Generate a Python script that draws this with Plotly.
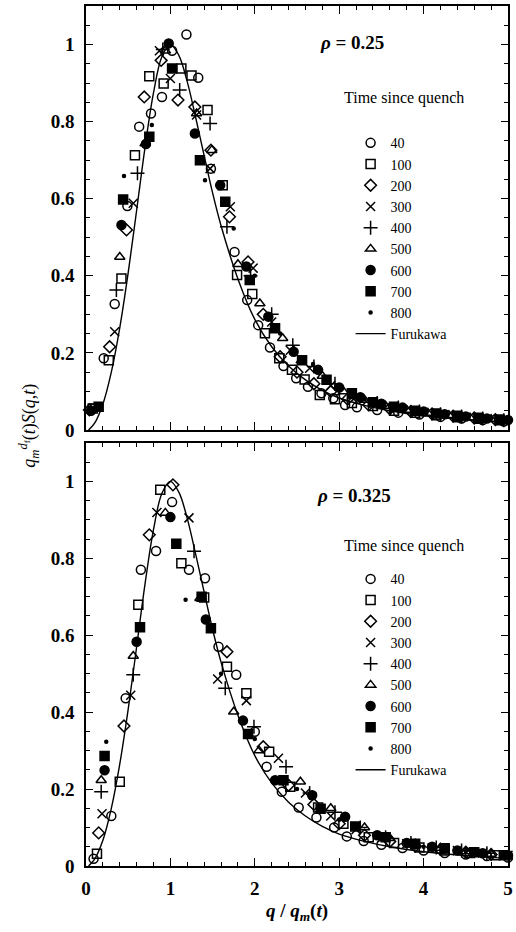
import plotly.graph_objects as go

# ---------------- data ----------------
series_names = ["40", "100", "200", "300", "400", "500", "600", "700", "800"]
x_ticks = [0, 1, 2, 3, 4, 5]
y_ticks = [0, 0.2, 0.4, 0.6, 0.8, 1]
y_tick_labels = ["0", "0.2", "0.4", "0.6", "0.8", "1"]

# rho = 0.25 (top panel)
top_x = {
    "40": [0.07, 0.21, 0.34, 0.49, 0.63, 0.77, 0.90, 1.02, 1.19, 1.33, 1.48, 1.76, 1.91, 2.04, 2.18, 2.34, 2.49, 2.63, 2.79, 2.93, 3.07, 3.21, 3.45, 3.70, 3.95, 4.20, 4.45, 4.70, 4.95],
    "100": [0.08, 0.27, 0.42, 0.58, 0.75, 0.92, 1.13, 1.25, 1.44, 1.62, 1.79, 1.97, 2.12, 2.29, 2.44, 2.59, 2.77, 2.95, 3.15, 3.40, 3.65, 3.90, 4.15, 4.40, 4.65, 4.90],
    "200": [0.04, 0.28, 0.48, 0.69, 0.89, 1.09, 1.29, 1.48, 1.70, 1.92, 2.10, 2.30, 2.50, 2.70, 2.90, 3.10, 3.35, 3.60, 3.85, 4.10, 4.35, 4.60, 4.85],
    "300": [0.34, 0.56, 0.87, 1.00, 1.31, 1.47, 1.71, 1.98, 2.20, 2.42, 2.65, 2.90, 3.15, 3.40, 3.65, 3.90, 4.15, 4.40, 4.65, 4.90],
    "400": [0.36, 0.61, 0.91, 1.11, 1.47, 1.67, 1.95, 2.20, 2.45, 2.70, 2.95, 3.20, 3.45, 3.70, 3.95, 4.20, 4.45, 4.70, 4.95],
    "500": [0.40, 0.70, 0.94, 1.31, 1.49, 1.80, 2.06, 2.33, 2.55, 2.80, 3.05, 3.30, 3.55, 3.80, 4.05, 4.30, 4.55, 4.80],
    "600": [0.06, 0.42, 0.71, 0.98, 1.29, 1.59, 1.90, 2.16, 2.46, 2.75, 3.00, 3.25, 3.50, 3.75, 4.00, 4.25, 4.50, 4.75, 5.00],
    "700": [0.15, 0.44, 0.75, 1.02, 1.35, 1.65, 1.94, 2.24, 2.56, 2.85, 3.15, 3.40, 3.65, 3.90, 4.15, 4.40, 4.65, 4.90],
    "800": [0.45, 0.78, 1.41, 1.75, 2.00, 2.30, 2.69, 3.00, 3.30, 3.60, 3.90, 4.20, 4.50, 4.80],
}
top_y = {
    "40": [0.056, 0.186, 0.327, 0.581, 0.787, 0.821, 0.864, 0.984, 1.026, 0.914, 0.678, 0.462, 0.337, 0.272, 0.214, 0.166, 0.134, 0.112, 0.095, 0.082, 0.065, 0.059, 0.052, 0.045, 0.040, 0.034, 0.030, 0.026, 0.022],
    "100": [0.056, 0.181, 0.393, 0.713, 0.918, 0.899, 0.938, 0.920, 0.830, 0.635, 0.402, 0.353, 0.251, 0.186, 0.156, 0.131, 0.091, 0.080, 0.070, 0.062, 0.050, 0.045, 0.038, 0.033, 0.029, 0.025],
    "200": [0.052, 0.216, 0.519, 0.864, 0.959, 0.856, 0.838, 0.726, 0.553, 0.436, 0.300, 0.190, 0.150, 0.120, 0.100, 0.080, 0.065, 0.055, 0.048, 0.042, 0.036, 0.031, 0.027],
    "300": [0.255, 0.588, 0.984, 0.912, 0.817, 0.678, 0.579, 0.420, 0.280, 0.207, 0.160, 0.115, 0.085, 0.068, 0.056, 0.048, 0.041, 0.035, 0.030, 0.026],
    "400": [0.363, 0.666, 0.987, 0.882, 0.795, 0.527, 0.400, 0.300, 0.220, 0.165, 0.120, 0.090, 0.070, 0.058, 0.048, 0.041, 0.035, 0.030, 0.025],
    "500": [0.449, 0.743, 0.984, 0.821, 0.726, 0.430, 0.328, 0.238, 0.180, 0.140, 0.100, 0.078, 0.062, 0.052, 0.044, 0.038, 0.032, 0.028],
    "600": [0.050, 0.532, 0.742, 1.003, 0.769, 0.635, 0.424, 0.294, 0.203, 0.156, 0.110, 0.085, 0.068, 0.058, 0.048, 0.041, 0.035, 0.030, 0.026],
    "700": [0.060, 0.598, 0.761, 0.938, 0.700, 0.592, 0.389, 0.264, 0.181, 0.130, 0.095, 0.072, 0.060, 0.050, 0.043, 0.037, 0.032, 0.027],
    "800": [0.659, 0.791, 0.648, 0.523, 0.400, 0.250, 0.171, 0.110, 0.080, 0.062, 0.050, 0.042, 0.035, 0.030],
}

# rho = 0.325 (bottom panel)
bot_x = {
    "40": [0.09, 0.30, 0.47, 0.65, 0.83, 1.02, 1.22, 1.41, 1.57, 1.78, 2.00, 2.14, 2.32, 2.52, 2.73, 2.94, 3.09, 3.29, 3.50, 3.75, 4.00, 4.25, 4.50, 4.75, 5.00],
    "100": [0.13, 0.40, 0.62, 0.88, 1.13, 1.40, 1.67, 1.90, 2.17, 2.42, 2.75, 3.05, 3.35, 3.65, 3.95, 4.25, 4.55, 4.85],
    "200": [0.15, 0.45, 0.75, 1.03, 1.67, 2.10, 2.40, 2.70, 3.00, 3.30, 3.60, 3.90, 4.20, 4.50, 4.80],
    "300": [0.19, 0.53, 0.84, 1.22, 1.56, 1.90, 2.28, 2.60, 2.90, 3.20, 3.50, 3.80, 4.10, 4.40, 4.70, 5.00],
    "400": [0.18, 0.56, 1.28, 1.65, 1.99, 2.37, 2.65, 2.95, 3.25, 3.55, 3.85, 4.15, 4.45, 4.75],
    "500": [0.18, 0.56, 0.94, 1.35, 1.75, 2.05, 2.54, 2.90, 3.30, 3.60, 3.90, 4.20, 4.50, 4.80],
    "600": [0.22, 0.60, 1.00, 1.42, 1.86, 2.24, 2.68, 3.07, 3.45, 3.80, 4.10, 4.40, 4.70, 5.00],
    "700": [0.22, 0.64, 1.07, 1.37, 1.48, 1.92, 2.34, 2.78, 3.19, 3.55, 3.90, 4.25, 4.60, 4.95],
    "800": [0.24, 1.18, 1.60, 2.00, 2.50, 3.00, 3.50, 4.00, 4.50, 5.00],
}
bot_y = {
    "40": [0.019, 0.130, 0.436, 0.770, 0.819, 0.946, 0.770, 0.748, 0.570, 0.497, 0.349, 0.258, 0.193, 0.152, 0.126, 0.100, 0.077, 0.065, 0.055, 0.047, 0.040, 0.034, 0.030, 0.026, 0.022],
    "100": [0.032, 0.219, 0.679, 0.978, 0.787, 0.698, 0.518, 0.449, 0.297, 0.206, 0.152, 0.110, 0.075, 0.060, 0.048, 0.040, 0.034, 0.028],
    "200": [0.086, 0.364, 0.861, 0.991, 0.557, 0.310, 0.210, 0.160, 0.110, 0.080, 0.064, 0.052, 0.043, 0.036, 0.030],
    "300": [0.136, 0.444, 0.919, 0.905, 0.486, 0.430, 0.280, 0.190, 0.130, 0.095, 0.072, 0.058, 0.047, 0.040, 0.034, 0.028],
    "400": [0.193, 0.497, 0.818, 0.462, 0.362, 0.258, 0.190, 0.140, 0.100, 0.075, 0.060, 0.048, 0.040, 0.033],
    "500": [0.223, 0.546, 0.918, 0.696, 0.401, 0.300, 0.219, 0.150, 0.100, 0.072, 0.058, 0.047, 0.038, 0.031],
    "600": [0.249, 0.583, 0.907, 0.641, 0.378, 0.223, 0.184, 0.128, 0.080, 0.060, 0.050, 0.040, 0.033, 0.028],
    "700": [0.286, 0.621, 0.838, 0.700, 0.618, 0.343, 0.223, 0.149, 0.103, 0.075, 0.058, 0.046, 0.036, 0.028],
    "800": [0.323, 0.692, 0.500, 0.330, 0.200, 0.120, 0.075, 0.050, 0.038, 0.028],
}

# Furukawa scaling curve
furukawa_x = [0.03, 0.10, 0.20, 0.30, 0.40, 0.50, 0.60, 0.70, 0.80, 0.90, 1.00, 1.10, 1.20, 1.30, 1.40, 1.50, 1.60, 1.80, 2.00, 2.20, 2.40, 2.60, 2.80, 3.00, 3.30, 3.60, 4.00, 4.50, 5.00]
furukawa_y = [0.0, 0.017, 0.067, 0.150, 0.265, 0.408, 0.570, 0.734, 0.875, 0.969, 1.000, 0.972, 0.903, 0.810, 0.712, 0.615, 0.530, 0.392, 0.287, 0.216, 0.166, 0.130, 0.103, 0.083, 0.064, 0.050, 0.037, 0.027, 0.020]

panel_labels = ["<b><i>ρ</i> = 0.25</b>", "<b><i>ρ</i> = 0.325</b>"]

# ---------------- styles ----------------
SERIF = "Liberation Serif, Times New Roman, serif"
marker_style = {
    "40": dict(symbol="circle-open", size=9),
    "100": dict(symbol="square-open", size=9),
    "200": dict(symbol="diamond-open", size=9),
    "300": dict(symbol="x-thin-open", size=9),
    "400": dict(symbol="cross-thin-open", size=10),
    "500": dict(symbol="triangle-up-open", size=9),
    "600": dict(symbol="circle", size=9),
    "700": dict(symbol="square", size=9),
    "800": dict(symbol="circle", size=3),
}

fig = go.Figure()

panels = [
    (top_x, top_y, "x", "y", "legend"),
    (bot_x, bot_y, "x2", "y2", "legend2"),
]
for px_, py_, xa, ya, lg in panels:
    for name in series_names:
        st = marker_style[name]
        fig.add_trace(go.Scatter(
            x=px_[name], y=py_[name], mode="markers", name=name,
            xaxis=xa, yaxis=ya, legend=lg, cliponaxis=False,
            marker=dict(symbol=st["symbol"], size=st["size"], color="black",
                        line=dict(color="black", width=1.5)),
        ))
    fig.add_trace(go.Scatter(
        x=furukawa_x, y=furukawa_y, mode="lines", name="Furukawa",
        xaxis=xa, yaxis=ya, legend=lg, line=dict(color="black", width=1.4, shape="spline"),
    ))

axis_common = dict(
    showline=True, linecolor="black", linewidth=1.6, mirror="allticks",
    ticks="inside", tickcolor="black", showgrid=False, zeroline=False, automargin=False,
    tickfont=dict(family=SERIF, size=19, color="black", weight="bold"),
)
x_common = dict(axis_common, range=[0, 5], tickvals=x_ticks, ticklen=8, tickwidth=1.3,
                minor=dict(dtick=0.2, ticklen=4, tickwidth=1.1, ticks="inside", tickcolor="black"))
y_common = dict(axis_common, range=[0, 1.1], tickvals=y_ticks, ticktext=y_tick_labels,
                ticklen=7, tickwidth=1.3, ticklabelstandoff=6,
                minor=dict(dtick=0.05, ticklen=4, tickwidth=1.1, ticks="inside", tickcolor="black"))

TOP_DOM = [0.507, 1.0]
BOT_DOM = [0.0, 0.492]

legend_common = dict(
    bgcolor="rgba(0,0,0,0)", borderwidth=0, xanchor="left", yanchor="top",
    font=dict(family=SERIF, size=14, color="black"), tracegroupgap=0,
    itemwidth=30,
)

fig.update_layout(
    width=516, height=932,
    margin=dict(l=86, r=8, t=6, b=66, autoexpand=False),
    paper_bgcolor="white", plot_bgcolor="white",
    showlegend=True,
    xaxis=dict(x_common, anchor="y", showticklabels=False),
    yaxis=dict(y_common, domain=TOP_DOM, anchor="x"),
    xaxis2=dict(x_common, anchor="y2", showticklabels=True, ticklabelstandoff=4,
                title=dict(text="<b><i>q</i> / <i>q</i><sub><i>m</i></sub>(<i>t</i>)</b>",
                           font=dict(family=SERIF, size=19, color="black"), standoff=6)),
    yaxis2=dict(y_common, domain=BOT_DOM, anchor="x2"),
    legend=dict(legend_common, x=0.627, y=0.859),
    legend2=dict(legend_common, x=0.627, y=0.352),
    annotations=[
        dict(text=panel_labels[0], xref="paper", yref="paper", x=0.55, y=0.957,
             xanchor="left", yanchor="middle", showarrow=False,
             font=dict(family=SERIF, size=19, color="black")),
        dict(text=panel_labels[1], xref="paper", yref="paper", x=0.543, y=0.431,
             xanchor="left", yanchor="middle", showarrow=False,
             font=dict(family=SERIF, size=19, color="black")),
        dict(text="Time since quench", xref="paper", yref="paper", x=0.754, y=0.893,
             xanchor="center", yanchor="middle", showarrow=False,
             font=dict(family=SERIF, size=16, color="black")),
        dict(text="Time since quench", xref="paper", yref="paper", x=0.754, y=0.372,
             xanchor="center", yanchor="middle", showarrow=False,
             font=dict(family=SERIF, size=16, color="black")),
        dict(text="<i>q</i><sub><i>m</i></sub><sup><i>d</i><sub>f</sub></sup>(<i>t</i>)<i>S</i>(<i>q</i>,<i>t</i>)",
             xref="paper", yref="paper", x=-0.135, y=0.512, textangle=-90,
             xanchor="center", yanchor="middle", showarrow=False,
             font=dict(family=SERIF, size=18, color="black")),
    ],
)

fig.write_html("out.html", config={"displayModeBar": False},
               post_script="document.body.style.margin='0';document.body.style.overflow='hidden';")
